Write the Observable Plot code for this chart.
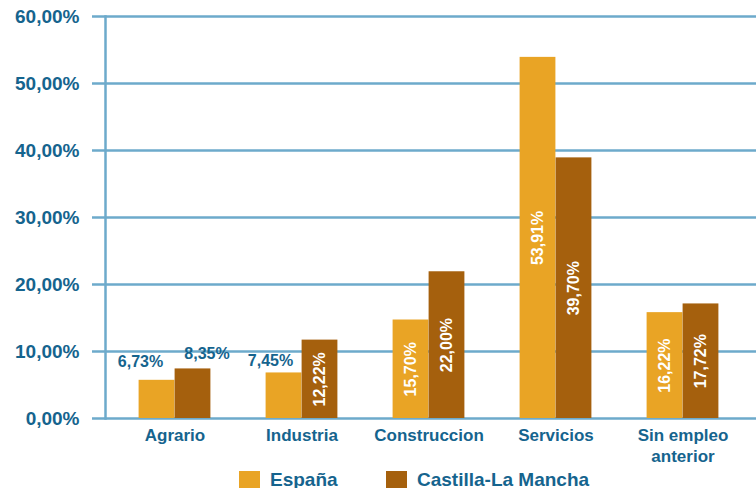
<!DOCTYPE html>
<html>
<head>
<meta charset="utf-8">
<script src="https://cdn.jsdelivr.net/npm/d3@7"></script>
<script src="https://cdn.jsdelivr.net/npm/@observablehq/plot@0.6"></script>
<style>
  html, body { margin: 0; padding: 0; background: #fff; width: 756px; height: 488px; overflow: hidden; }
  #wrap { position: relative; width: 756px; height: 488px; font-family: "Liberation Sans", Arial, sans-serif; font-weight: bold; }
  .leg { position: absolute; top: 470px; display: flex; align-items: flex-start; font-size: 19px; color: #15648E; }
  .sw { width: 21px; height: 21px; margin-top: 1px; margin-right: 10px; }
  .lt { line-height: 20px; margin-top: 0px; }
</style>
</head>
<body>
<div id="wrap"></div>
<script>
const categories = ["Agrario", "Industria", "Construccion", "Servicios", "Sin empleo anterior"];
const espana = [5.7, 6.8, 14.7, 53.9, 15.8];
const castilla = [7.4, 11.7, 21.9, 38.9, 17.1];
const espanaLabels = ["6,73%", "7,45%", "15,70%", "53,91%", "16,22%"];
const castillaLabels = ["8,35%", "12,22%", "22,00%", "39,70%", "17,72%"];
const yTicks = [0, 10, 20, 30, 40, 50, 60];
const seriesNames = ["España", "Castilla-La Mancha"];

const blue = "#15648E", grid = "#6DAACB", cEsp = "#E9A425", cClm = "#A5600D";
const ff = "Liberation Sans, Arial, sans-serif";

const rows = categories.map((c, i) => ({cat: c, esp: espana[i], clm: castilla[i], espL: espanaLabels[i], clmL: castillaLabels[i]}));

const chart = Plot.plot({
  width: 756, height: 466,
  marginLeft: 105, marginRight: 0, marginTop: 16, marginBottom: 48,
  style: {fontFamily: ff, fontWeight: "bold", color: blue, background: "white", overflow: "visible"},
  x: {domain: categories, paddingInner: 0, paddingOuter: 0.058, align: 0.37},
  y: {domain: [0, 60]},
  marks: [
    Plot.ruleY(yTicks, {stroke: grid, strokeWidth: 2.5}),
    Plot.frame({anchor: "left", stroke: grid, strokeWidth: 2.5}),
    Plot.axisY(yTicks, {tickSize: 13, tickPadding: 13, stroke: grid, strokeWidth: 2.5, fill: blue, fontSize: 19,
      tickFormat: d => d.toFixed(2).replace(".", ",") + "%", label: null}),
    Plot.axisX({tickSize: 0, tickPadding: 7, fontSize: 17, lineHeight: 1.25, fill: blue, label: null,
      tickFormat: d => d === "Sin empleo anterior" ? "Sin empleo\nanterior" : d}),
    Plot.barY(rows, {x: "cat", y: "esp", fill: cEsp, insetLeft: 27.6, insetRight: 63.6}),
    Plot.barY(rows, {x: "cat", y: "clm", fill: cClm, insetLeft: 63.6, insetRight: 27.6}),
    Plot.text(rows.filter((d, i) => i >= 2), {x: "cat", y: d => d.esp / 2, text: "espL", rotate: -90, dx: -18, fill: "white", fontSize: 16}),
    Plot.text(rows.filter((d, i) => i >= 1), {x: "cat", y: d => d.clm / 2, text: "clmL", rotate: -90, dx: 18, fill: "white", fontSize: 16}),
    Plot.text([rows[0]], {x: "cat", y: "esp", text: "espL", dx: -34.5, dy: -18, fill: blue, fontSize: 16}),
    Plot.text([rows[0]], {x: "cat", y: "clm", text: "clmL", dx: 32, dy: -15, fill: blue, fontSize: 16}),
    Plot.text([rows[1]], {x: "cat", y: "esp", text: "espL", dx: -31.5, dy: -12, fill: blue, fontSize: 16})
  ]
});

const wrap = document.getElementById("wrap");
wrap.appendChild(chart);

const legendPos = [239, 386];
const legendCol = [cEsp, cClm];
seriesNames.forEach((name, i) => {
  const item = document.createElement("div");
  item.className = "leg";
  item.style.left = legendPos[i] + "px";
  item.innerHTML = `<div class="sw" style="background:${legendCol[i]}"></div><div class="lt">${name}</div>`;
  wrap.appendChild(item);
});
</script>
</body>
</html>
